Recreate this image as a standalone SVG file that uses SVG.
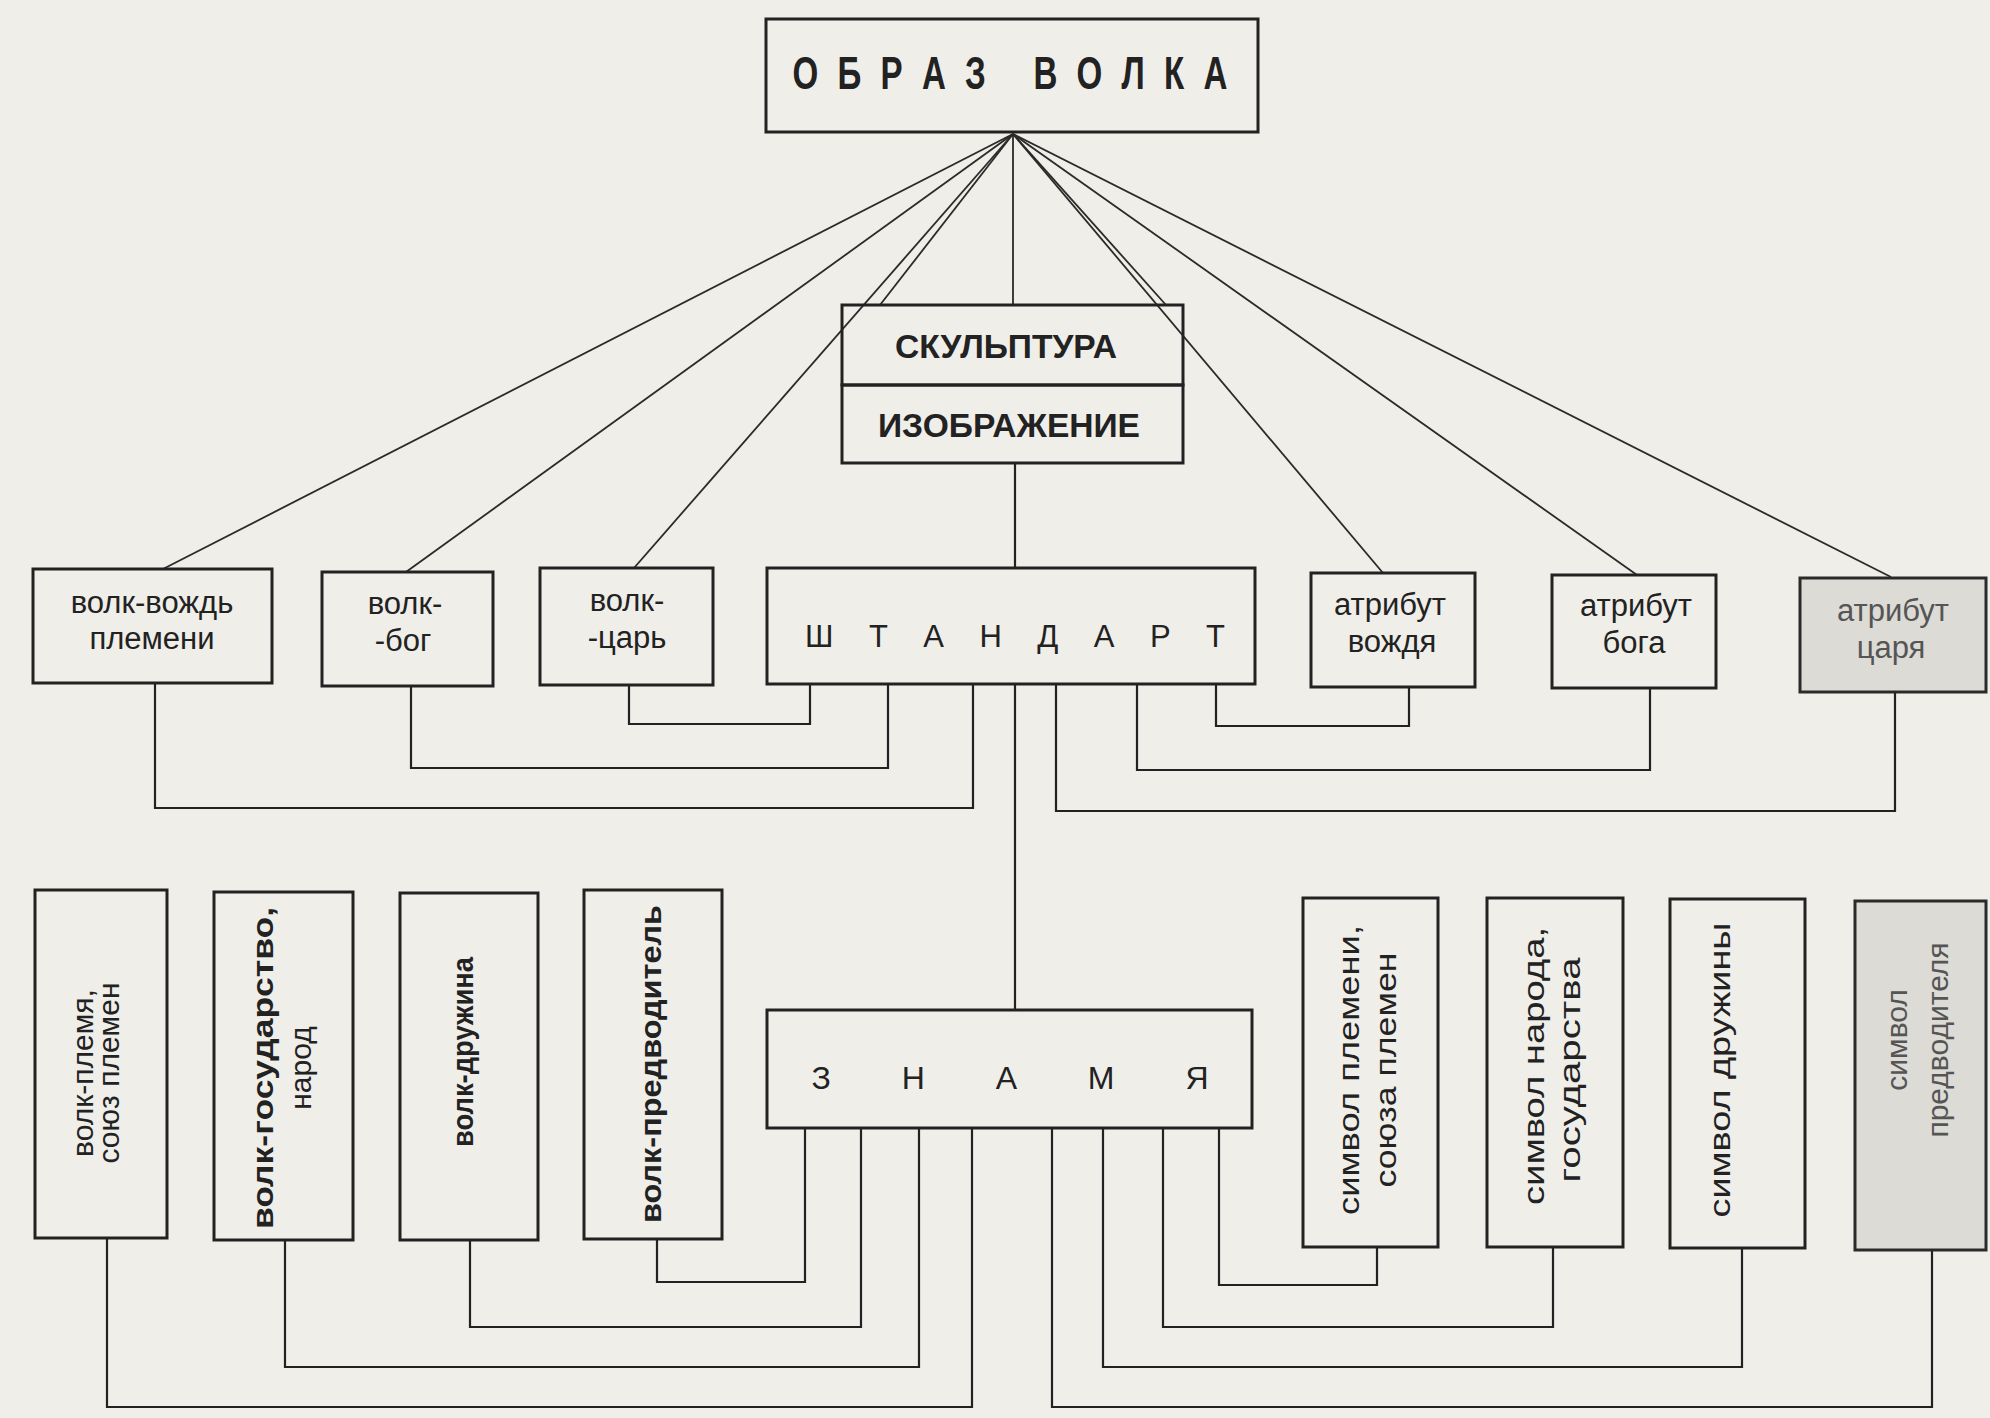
<svg xmlns="http://www.w3.org/2000/svg" width="1990" height="1418" viewBox="0 0 1990 1418">
<style>
.box{fill:none;stroke:#222;stroke-width:3}
.gbox{fill:#dcdbd5;stroke:#2a2a2a;stroke-width:3}
.c{fill:none;stroke:#222;stroke-width:2.2}
.ray{fill:none;stroke:#2a2a2a;stroke-width:1.8}
.t{font-family:"Liberation Sans",Arial,sans-serif;fill:#222;text-anchor:middle}
.s{font-size:31px}
.v{font-size:30px}
.b{font-weight:bold}
.g{fill:#555}
</style>
<rect x="0" y="0" width="1990" height="1418" fill="#efeee9"/>

<g id="connectors">
  <line class="ray" x1="1013" y1="134" x2="163" y2="569"/>
  <line class="ray" x1="1013" y1="134" x2="406" y2="572"/>
  <line class="ray" x1="1013" y1="134" x2="634" y2="568"/>
  <line class="ray" x1="1013" y1="134" x2="880" y2="305"/>
  <line class="ray" x1="1013" y1="134" x2="1013" y2="305"/>
  <line class="ray" x1="1013" y1="134" x2="1166" y2="305"/>
  <line class="ray" x1="1013" y1="134" x2="1383" y2="573"/>
  <line class="ray" x1="1013" y1="134" x2="1637" y2="575"/>
  <line class="ray" x1="1013" y1="134" x2="1891" y2="577"/>
  <line class="c" x1="1015" y1="463" x2="1015" y2="568"/>
  <line class="c" x1="1015" y1="684" x2="1015" y2="1010"/>
  <polyline class="c" points="629,685 629,724 810,724 810,684"/>
  <polyline class="c" points="411,686 411,768 888,768 888,684"/>
  <polyline class="c" points="155,683 155,808 973,808 973,684"/>
  <polyline class="c" points="1409,687 1409,726 1216,726 1216,684"/>
  <polyline class="c" points="1650,688 1650,770 1137,770 1137,684"/>
  <polyline class="c" points="1895,692 1895,811 1056,811 1056,684"/>
  <polyline class="c" points="657,1239 657,1282 805,1282 805,1128"/>
  <polyline class="c" points="470,1240 470,1327 861,1327 861,1128"/>
  <polyline class="c" points="285,1240 285,1367 919,1367 919,1128"/>
  <polyline class="c" points="107,1238 107,1407 972,1407 972,1128"/>
  <polyline class="c" points="1377,1247 1377,1285 1219,1285 1219,1128"/>
  <polyline class="c" points="1553,1247 1553,1327 1163,1327 1163,1128"/>
  <polyline class="c" points="1742,1248 1742,1367 1103,1367 1103,1128"/>
  <polyline class="c" points="1932,1250 1932,1407 1052,1407 1052,1128"/>
</g>

<g id="obraz-volka">
  <rect class="box" x="766" y="19" width="492" height="113"/>
  <g transform="translate(1010 89) scale(0.72 1)">
    <text class="t b" x="0" y="0" font-size="46" xml:space="preserve" textLength="604" lengthAdjust="spacing">О Б Р А З   В О Л К А</text>
  </g>
</g>

<g id="skulptura">
  <rect class="box" x="842" y="305" width="341" height="80"/>
  <text class="t b" x="1006" y="358" font-size="34" textLength="222" lengthAdjust="spacingAndGlyphs">СКУЛЬПТУРА</text>
</g>
<g id="izobrazhenie">
  <rect class="box" x="842" y="385" width="341" height="78"/>
  <text class="t b" x="1009" y="437" font-size="34" textLength="262" lengthAdjust="spacingAndGlyphs">ИЗОБРАЖЕНИЕ</text>
</g>

<g id="volk-vozhd">
  <rect class="box" x="33" y="569" width="239" height="114"/>
  <text class="t s" x="152" y="613">волк-вождь</text>
  <text class="t s" x="152" y="649">племени</text>
</g>
<g id="volk-bog">
  <rect class="box" x="322" y="572" width="171" height="114"/>
  <text class="t s" x="405" y="614">волк-</text>
  <text class="t s" x="403" y="651">-бог</text>
</g>
<g id="volk-tsar">
  <rect class="box" x="540" y="568" width="173" height="117"/>
  <text class="t s" x="627" y="611">волк-</text>
  <text class="t s" x="627" y="648">-царь</text>
</g>
<g id="shtandart">
  <rect class="box" x="767" y="568" width="488" height="116"/>
  <text class="t s" x="1015" y="647" font-size="33" textLength="420" lengthAdjust="spacing">Ш Т А Н Д А Р Т</text>
</g>
<g id="atribut-vozhdya">
  <rect class="box" x="1311" y="573" width="164" height="114"/>
  <text class="t s" x="1390" y="615">атрибут</text>
  <text class="t s" x="1392" y="652">вождя</text>
</g>
<g id="atribut-boga">
  <rect class="box" x="1552" y="575" width="164" height="113"/>
  <text class="t s" x="1636" y="616">атрибут</text>
  <text class="t s" x="1634" y="653">бога</text>
</g>
<g id="atribut-tsarya">
  <rect class="gbox" x="1800" y="578" width="186" height="114"/>
  <text class="t s g" x="1893" y="621">атрибут</text>
  <text class="t s g" x="1891" y="658">царя</text>
</g>

<g id="znamya">
  <rect class="box" x="767" y="1010" width="485" height="118"/>
  <text class="t" x="1010" y="1089" font-size="32" textLength="397" lengthAdjust="spacing">З Н А М Я</text>
</g>

<g id="volk-plemya">
  <rect class="box" x="35" y="890" width="132" height="348"/>
  <text class="t v" transform="translate(93 1073) rotate(-90)">волк-племя,</text>
  <text class="t v" transform="translate(119 1073) rotate(-90)">союз племен</text>
</g>
<g id="volk-gosudarstvo">
  <rect class="box" x="214" y="892" width="139" height="348"/>
  <text class="t v b" transform="translate(273 1068) rotate(-90)" textLength="322" lengthAdjust="spacingAndGlyphs">волк-государство,</text>
  <text class="t v" transform="translate(311 1068) rotate(-90)">народ</text>
</g>
<g id="volk-druzhina">
  <rect class="box" x="400" y="893" width="138" height="347"/>
  <text class="t v b" transform="translate(473 1052) rotate(-90)" textLength="190" lengthAdjust="spacingAndGlyphs">волк-дружина</text>
</g>
<g id="volk-predvoditel">
  <rect class="box" x="584" y="890" width="138" height="349"/>
  <text class="t v b" transform="translate(661 1064) rotate(-90)" textLength="318" lengthAdjust="spacingAndGlyphs">волк-предводитель</text>
</g>

<g id="simvol-plemeni">
  <rect class="box" x="1303" y="898" width="135" height="349"/>
  <text class="t v" transform="translate(1359 1070) rotate(-90)" textLength="290" lengthAdjust="spacingAndGlyphs">символ племени,</text>
  <text class="t v" transform="translate(1396 1070) rotate(-90)" textLength="235" lengthAdjust="spacingAndGlyphs">союза племен</text>
</g>
<g id="simvol-naroda">
  <rect class="box" x="1487" y="898" width="136" height="349"/>
  <text class="t v" transform="translate(1544 1066) rotate(-90)" textLength="278" lengthAdjust="spacingAndGlyphs">символ народа,</text>
  <text class="t v" transform="translate(1580 1070) rotate(-90)" textLength="225" lengthAdjust="spacingAndGlyphs">государства</text>
</g>
<g id="simvol-druzhiny">
  <rect class="box" x="1670" y="899" width="135" height="349"/>
  <text class="t v" transform="translate(1730 1070) rotate(-90)" textLength="295" lengthAdjust="spacingAndGlyphs">символ дружины</text>
</g>
<g id="simvol-predvoditelya">
  <rect class="gbox" x="1855" y="901" width="131" height="349"/>
  <text class="t v g" transform="translate(1907 1040) rotate(-90)">символ</text>
  <text class="t v g" transform="translate(1948 1040) rotate(-90)">предводителя</text>
</g>
</svg>
